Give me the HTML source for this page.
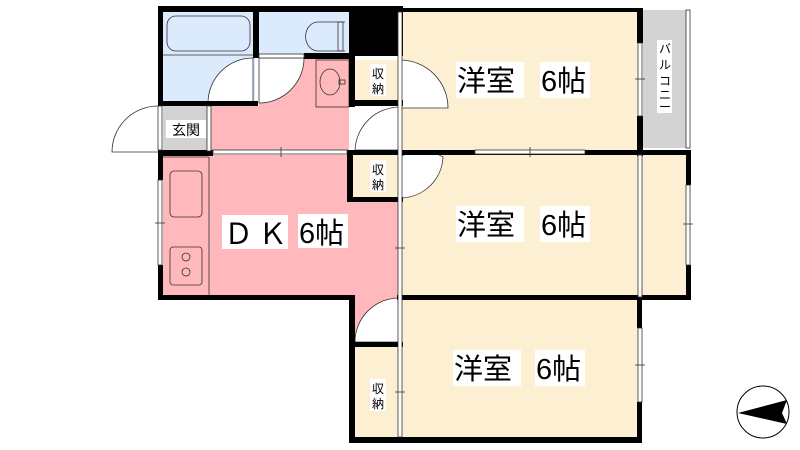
<!DOCTYPE html>
<html><head><meta charset="utf-8"><style>
html,body{margin:0;padding:0;background:#fff;width:800px;height:450px;overflow:hidden}
text{font-family:"Liberation Sans","Noto Sans CJK JP",sans-serif}
</style></head><body>
<svg width="800" height="450" viewBox="0 0 800 450" xmlns="http://www.w3.org/2000/svg">
<rect x="163" y="12" width="92" height="91" fill="#dbeafc"/>
<rect x="259" y="12" width="90" height="42" fill="#dbeafc"/>
<rect x="163" y="106" width="46" height="45" fill="#d3d3d3"/>
<rect x="259" y="58" width="90" height="94" fill="#ffb8bb"/>
<rect x="209" y="106" width="140" height="46" fill="#ffb8bb"/>
<rect x="163" y="155" width="190" height="141" fill="#ffb8bb"/>
<rect x="353" y="196" width="48" height="100" fill="#ffb8bb"/>
<rect x="355" y="296" width="46" height="48" fill="#ffb8bb"/>
<rect x="355" y="60" width="43" height="41" fill="#fdf0d2"/>
<rect x="353" y="155" width="45" height="43" fill="#fdf0d2"/>
<rect x="355" y="347" width="45" height="92" fill="#fdf0d2"/>
<rect x="402" y="12" width="236" height="138" fill="#fdf0d2"/>
<rect x="402" y="155" width="286" height="142" fill="#fdf0d2"/>
<rect x="402" y="300" width="236" height="138" fill="#fdf0d2"/>
<rect x="643" y="10" width="43" height="138" fill="#d3d3d3"/>
<path d="M253 103 L253 58 A45 45 0 0 0 208 103 Z" fill="#fff" stroke="#333" stroke-width="0.8"/>
<path d="M259 58 L304 58 A45 45 0 0 1 259 103 Z" fill="#fff" stroke="#333" stroke-width="0.8"/>
<path d="M158 106 A46 46 0 0 0 112 152 L158 152" fill="#fff" stroke="#333" stroke-width="0.8"/>
<path d="M400 60 A48 48 0 0 1 448 108 L400 108 Z" fill="#fff" stroke="#333" stroke-width="0.8"/>
<path d="M400 107 A45 45 0 0 0 355 150 L400 150 Z" fill="#fff" stroke="#333" stroke-width="0.8"/>
<path d="M400 157 A43 43 0 0 1 443 157 A43 43 0 0 1 400 198 Z" fill="#fff" stroke="#333" stroke-width="0.8"/>
<path d="M400 298 A44 44 0 0 0 355 342 L400 342 Z" fill="#fff" stroke="#333" stroke-width="0.8"/>
<rect x="167" y="16" width="83" height="35" rx="9" fill="none" stroke="#333" stroke-width="0.8"/>
<line x1="163" y1="55" x2="255" y2="55" stroke="#333" stroke-width="0.8"/>
<path d="M345 22 L318 22 A12 14 0 0 0 318 51 L345 51" fill="none" stroke="#333" stroke-width="0.8"/>
<rect x="338" y="22" width="5" height="29" fill="none" stroke="#333" stroke-width="0.8"/>
<rect x="316" y="60" width="33" height="47" fill="none" stroke="#333" stroke-width="0.8"/>
<ellipse cx="330" cy="82" rx="10" ry="13" fill="none" stroke="#333" stroke-width="0.8"/>
<rect x="339" y="80" width="6" height="4" fill="none" stroke="#333" stroke-width="0.8"/>
<line x1="209" y1="157" x2="209" y2="295" stroke="#333" stroke-width="0.8"/>
<line x1="163" y1="157" x2="209" y2="157" stroke="#333" stroke-width="0.8"/>
<rect x="170" y="171" width="32" height="46" rx="4" fill="none" stroke="#333" stroke-width="0.8"/>
<rect x="170" y="247" width="32" height="38" rx="3" fill="none" stroke="#333" stroke-width="0.8"/>
<circle cx="186" cy="257" r="4" fill="none" stroke="#333" stroke-width="0.8"/>
<circle cx="186" cy="272" r="4" fill="none" stroke="#333" stroke-width="0.8"/>
<g fill="#000">
<rect x="158" y="6" width="245" height="6"/>
<rect x="403" y="8" width="240" height="4"/>
<rect x="349" y="6" width="54" height="50"/>
<rect x="158" y="6" width="5" height="100"/>
<rect x="158" y="150" width="5" height="30"/>
<rect x="158" y="265" width="5" height="35"/>
<rect x="253" y="6" width="6" height="52"/>
<rect x="304" y="53" width="51" height="6"/>
<rect x="349" y="53" width="6" height="54"/>
<rect x="349" y="100" width="54" height="6"/>
<rect x="158" y="101" width="100" height="5"/>
<rect x="158" y="150" width="55" height="6"/>
<rect x="347" y="150" width="296" height="5"/>
<rect x="347" y="150" width="6" height="52"/>
<rect x="347" y="197" width="56" height="5"/>
<rect x="637" y="8" width="6" height="35"/>
<rect x="637" y="116" width="6" height="40"/>
<rect x="643" y="150" width="48" height="5"/>
<rect x="686" y="150" width="5" height="35"/>
<rect x="686" y="265" width="5" height="35"/>
<rect x="158" y="295" width="197" height="5"/>
<rect x="397" y="295" width="294" height="5"/>
<rect x="349" y="295" width="6" height="148"/>
<rect x="349" y="342" width="54" height="5"/>
<rect x="349" y="437" width="293" height="6"/>
<rect x="637" y="298" width="5" height="30"/>
<rect x="637" y="402" width="5" height="41"/>
</g>
<g fill="#fff" stroke="#333" stroke-width="0.8">
<rect x="213" y="150" width="134" height="4"/>
<rect x="475" y="150" width="110" height="4"/>
<rect x="398" y="12" width="4" height="425"/>
<rect x="638" y="43" width="4" height="73"/>
<rect x="638" y="155" width="4" height="142"/>
<rect x="686" y="185" width="4" height="80"/>
<rect x="638" y="328" width="4" height="74"/>
<rect x="158" y="180" width="4" height="85"/>
<rect x="686" y="10" width="4" height="138"/>
<rect x="207" y="106" width="4" height="45"/>
<rect x="158" y="106" width="4" height="44"/>
<rect x="259" y="54" width="45" height="4"/>
</g>
<g stroke="#333" stroke-width="0.8">
<line x1="281" y1="147" x2="281" y2="157"/><line x1="530" y1="147" x2="530" y2="157"/>
<line x1="395" y1="248" x2="405" y2="248"/><line x1="395" y1="392" x2="405" y2="392"/>
<line x1="635" y1="79" x2="645" y2="79"/><line x1="635" y1="365" x2="645" y2="365"/>
<line x1="683" y1="224" x2="693" y2="224"/><line x1="155" y1="223" x2="165" y2="223"/>
</g>
<g font-size="12" text-anchor="middle">
<rect x="370" y="64" width="16" height="32" fill="#fff"/>
<text x="378" y="78">収</text><text x="378" y="93">納</text>
<rect x="370" y="160" width="16" height="32" fill="#fff"/>
<text x="378" y="174">収</text><text x="378" y="189">納</text>
<rect x="370" y="379" width="16" height="32" fill="#fff"/>
<text x="378" y="393">収</text><text x="378" y="408">納</text>
<rect x="166" y="120" width="40" height="18" fill="#fff"/>
<text x="186" y="135" font-size="14">玄関</text>
</g>
<g font-size="12" text-anchor="middle">
<rect x="657" y="40" width="15" height="73" fill="#fff"/>
<text x="665" y="53">バ</text><text x="665" y="69">ル</text><text x="665" y="85">コ</text><text x="665" y="99">ニ</text><text x="665" y="111">ー</text>
</g>
<g font-size="29">
<rect x="456" y="62" width="68" height="36" fill="#fff"/><text x="457" y="91">洋室</text>
<rect x="540" y="62" width="50" height="36" fill="#fff"/><text x="541" y="91">6帖</text>
<rect x="456" y="206" width="68" height="36" fill="#fff"/><text x="457" y="235">洋室</text>
<rect x="540" y="206" width="50" height="36" fill="#fff"/><text x="541" y="235">6帖</text>
<rect x="453" y="350" width="68" height="36" fill="#fff"/><text x="454" y="379">洋室</text>
<rect x="535" y="350" width="50" height="36" fill="#fff"/><text x="536" y="379">6帖</text>
<rect x="222" y="215" width="66" height="34" fill="#fff"/>
<rect x="298" y="214" width="50" height="34" fill="#fff"/>
<text x="224" y="244">Ｄ</text><text x="258" y="244">Ｋ</text>
<text x="299" y="243">6帖</text>
</g>
<circle cx="763" cy="412" r="26" fill="#fff" stroke="#000" stroke-width="1"/>
<path d="M738 413 L787 400 L782 413 L787 424 Z" fill="#000"/>
</svg>
</body></html>
